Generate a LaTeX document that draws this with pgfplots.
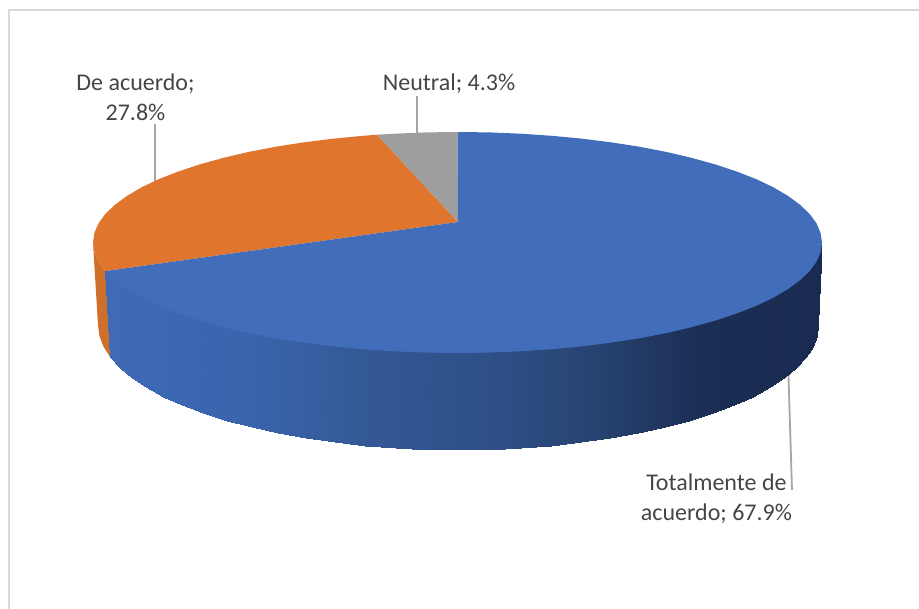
\documentclass[border=0pt]{standalone}
\usepackage{pgfplots}
\pgfplotsset{compat=1.18}
\usepackage{fontspec}
\setmainfont{Carlito}
\definecolor{piebl}{HTML}{416DBB}
\definecolor{pieor}{HTML}{E0762D}
\definecolor{pieorside}{HTML}{CF6F2C}
\definecolor{piegr}{HTML}{9E9E9E}
\definecolor{leader}{HTML}{A6A6A6}
\definecolor{frame}{HTML}{D9D9D9}
\definecolor{labeltxt}{HTML}{454545}
\begin{document}
\begin{tikzpicture}
\begin{axis}[
    width=919pt, height=609pt, scale only axis,
    xmin=0, xmax=919, ymin=0, ymax=609,
    y dir=reverse,
    hide axis,
    clip=false,
    colormap={side}{
        rgb255(0pt)=(62,106,182) rgb255(140pt)=(58,100,172) rgb255(240pt)=(52,90,152)
        rgb255(390pt)=(46,79,133) rgb255(490pt)=(38,66,112) rgb255(590pt)=(27,46,85)
        rgb255(708pt)=(25,43,80)},
    point meta min=110, point meta max=818,
]
% chart frame (left and top only)
\addplot[frame, line width=2.5pt] coordinates {(9,609) (9,10) (919,10)};
% leader lines
\addplot[leader, line width=1.8pt] coordinates {(155,124) (155,181)};
\addplot[leader, line width=1.8pt] coordinates {(417,96) (417,134)};
\addplot[leader, line width=1.8pt] coordinates {(788,360) (792,490)};
% orange side
\addplot[fill=pieorside, draw=none] coordinates {
    (105.4,271.1) (98.5,261.7) (94.4,252.1) (93,242.5)
    (98,325) (99.4,335.9) (103.5,346.7) (110.3,357.4)} --cycle;
% blue side, upper row runs on under the top face so no seam shows
\addplot[surf, shader=interp, mesh/rows=34, mesh/cols=2, point meta=x] table {
x y
105.4 271.1
110.3 357.4
115 274.3
119.7 367.8
127.2 283.2
131.7 377.8
141.8 291.8
146.2 387.5
158.9 299.9
163.1 396.7
178.3 307.5
182.2 405.3
199.8 314.6
203.4 413.4
223.2 321.1
226.6 420.8
248.4 327
251.5 427.4
275.2 332.2
278 433.3
303.5 336.6
305.9 438.3
332.8 340.3
334.9 442.5
363.2 343.2
364.8 445.7
394.2 345.3
395.5 448.1
425.7 346.6
426.6 449.5
457.5 347
458 450
489.3 346.6
489.4 449.5
520.8 345.3
520.5 448.1
551.8 343.2
551.2 445.7
582.2 340.3
581.1 442.5
611.5 336.6
610.1 438.3
639.8 332.2
638 433.3
666.6 327
664.5 427.4
691.8 321.1
689.4 420.8
715.2 314.6
712.6 413.4
736.7 307.5
733.8 405.3
756.1 299.9
752.9 396.7
773.2 291.8
769.8 387.5
787.8 283.2
784.3 377.8
800 274.3
796.3 367.8
809.6 265.1
805.7 357.4
816.5 255.7
812.5 346.7
820.6 246.1
816.6 335.9
822 242.5
818 325
};
% top face: orange
\addplot[fill=pieor, draw=none] coordinates {
    (458,222) (105.4,271.1) (98.5,261.7) (94.4,252.1) (93,242.5) (94.4,232.9) (98.5,223.3)
    (105.4,213.9) (115,204.7) (127.2,195.8) (141.8,187.2) (158.9,179.1) (178.3,171.5)
    (199.8,164.4) (223.2,157.9) (248.4,152) (275.2,146.8) (303.5,142.4) (332.8,138.7)
    (363.2,135.8) (377,134.7)} --cycle;
% top face: grey
\addplot[fill=piegr, draw=none] coordinates {
    (458,222) (377,134.7) (394.2,133.7) (425.7,132.4) (457.5,132)} --cycle;
% top face: blue
\addplot[fill=piebl, draw=none] coordinates {
    (458,222) (457.5,132) (489.3,132.4) (520.8,133.7) (551.8,135.8) (582.2,138.7) (611.5,142.4)
    (639.8,146.8) (666.6,152) (691.8,157.9) (715.2,164.4) (736.7,171.5) (756.1,179.1)
    (773.2,187.2) (787.8,195.8) (800,204.7) (809.6,213.9) (816.5,223.3) (820.6,232.9)
    (822,242.5) (820.6,252.1) (816.5,261.7) (809.6,271.1) (800,280.3) (787.8,289.2)
    (773.2,297.8) (756.1,305.9) (736.7,313.5) (715.2,320.6) (691.8,327.1) (666.6,333)
    (639.8,338.2) (611.5,342.6) (582.2,346.3) (551.8,349.2) (520.8,351.3) (489.3,352.6)
    (457.5,353) (425.7,352.6) (394.2,351.3) (363.2,349.2) (332.8,346.3) (303.5,342.6)
    (275.2,338.2) (248.4,333) (223.2,327.1) (199.8,320.6) (178.3,313.5) (158.9,305.9)
    (141.8,297.8) (127.2,289.2) (115,280.3) (105.4,271.1)} --cycle;
% labels
\node[labeltxt, font=\fontsize{24}{30}\selectfont, align=center] at (axis cs:135.5,97.5) {De acuerdo;\\27.8\%};
\node[labeltxt, font=\fontsize{24}{30}\selectfont] at (axis cs:449,84) {Neutral; 4.3\%};
\node[labeltxt, font=\fontsize{24}{30}\selectfont, align=center] at (axis cs:716.5,499) {Totalmente de\\acuerdo; 67.9\%};
\end{axis}
\pgfresetboundingbox
\path[use as bounding box] (current axis.south west) rectangle (current axis.north east);
\end{tikzpicture}
\end{document}
